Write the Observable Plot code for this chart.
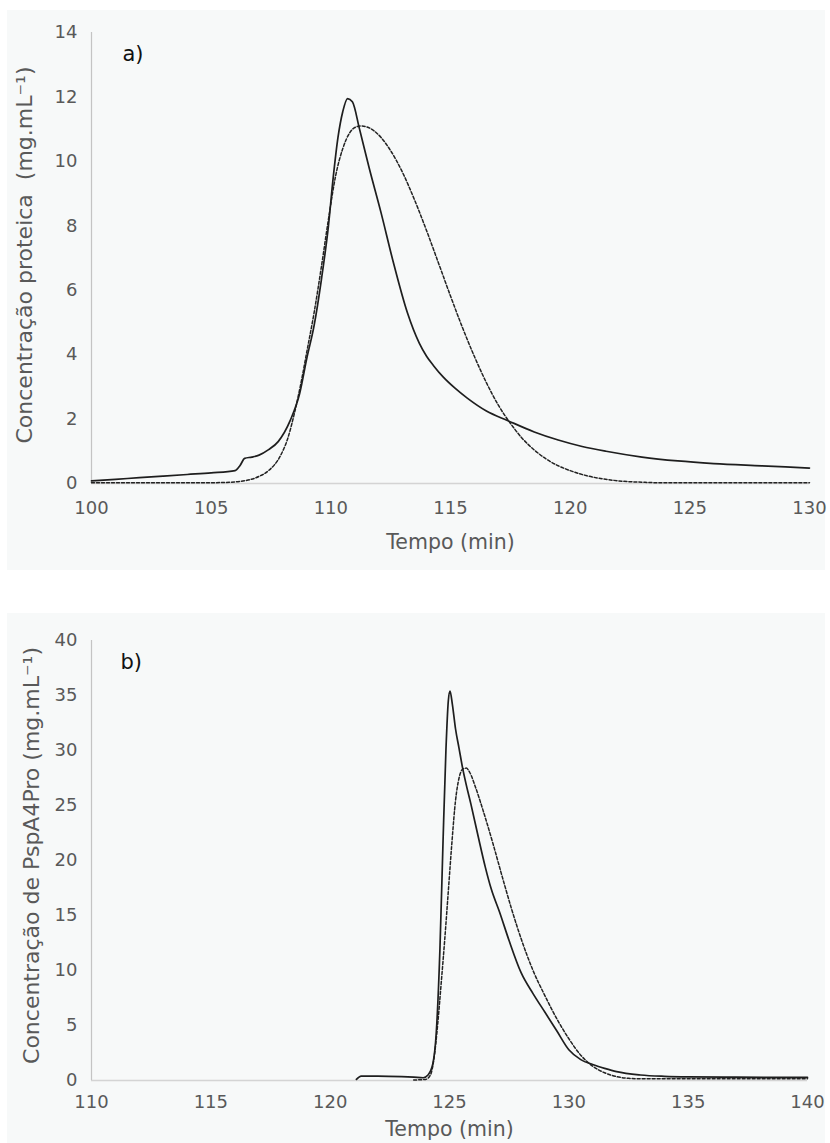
<!DOCTYPE html>
<html><head><meta charset="utf-8">
<script src="https://cdn.jsdelivr.net/npm/d3@7"></script>
<script src="https://cdn.jsdelivr.net/npm/@observablehq/plot@0.6"></script>
<style>
body{margin:0;background:#fff;width:830px;height:1143px;position:relative;overflow:hidden;font-family:"DejaVu Sans",sans-serif}
.panel{position:absolute;left:7px;width:818px;background:#f7f9f9}
#pa{top:10px;height:560px}
#pb{top:613px;height:530px}
</style></head><body>
<div id="pa" class="panel"></div><div id="pb" class="panel"></div>
<script>
// Panel a) — protein concentration
const aXTicks = [100, 105, 110, 115, 120, 125, 130];
const aYTicks = [0, 2, 4, 6, 8, 10, 12, 14];
const aSolidT = [100, 101, 102, 103, 104, 105, 106, 106.2, 106.4, 106.7, 107.0, 107.4, 107.8, 108.3, 108.7, 109.0, 109.3, 109.6, 109.9, 110.1, 110.3, 110.5, 110.7, 110.9, 111.2, 111.6, 112.1, 112.6, 113.2, 113.7, 114.0, 114.3, 114.7, 115.2, 115.7, 116.5, 117.4, 118.5, 119.5, 120.5, 121.5, 123.0, 124.5, 126.0, 128.0, 130.0];
const aSolidV = [0.08, 0.13, 0.18, 0.23, 0.28, 0.33, 0.40, 0.55, 0.78, 0.82, 0.88, 1.05, 1.3, 1.95, 2.8, 3.9, 4.9, 6.3, 8.0, 9.5, 10.75, 11.55, 11.95, 11.85, 11.0, 9.8, 8.4, 6.9, 5.3, 4.35, 3.95, 3.65, 3.3, 2.95, 2.65, 2.25, 1.95, 1.6, 1.35, 1.15, 1.0, 0.82, 0.7, 0.62, 0.55, 0.48];
const aDashT = [100, 102, 104, 105.5, 106.5, 107.0, 107.4, 107.9, 108.2, 108.5, 108.8, 109.0, 109.3, 109.6, 109.9, 110.2, 110.5, 110.8, 111.0, 111.25, 111.5, 111.8, 112.1, 112.5, 113.0, 113.5, 114.0, 114.5, 115.0, 115.5, 116.0, 116.5, 117.0, 117.5, 118.0, 118.5, 119.0, 119.5, 120.0, 120.7, 121.4, 122.2, 123.0, 124.0, 130.0];
const aDashV = [0.02, 0.02, 0.02, 0.03, 0.1, 0.22, 0.4, 0.87, 1.4, 2.25, 3.3, 4.1, 5.3, 6.7, 8.2, 9.55, 10.4, 10.9, 11.05, 11.1, 11.07, 10.95, 10.74, 10.33, 9.65, 8.8, 7.85, 6.84, 5.82, 4.84, 3.94, 3.13, 2.43, 1.87, 1.4, 1.04, 0.76, 0.55, 0.4, 0.24, 0.14, 0.07, 0.04, 0.02, 0.02];

// Panel b) — PspA4Pro concentration
const bXTicks = [110, 115, 120, 125, 130, 135, 140];
const bYTicks = [0, 5, 10, 15, 20, 25, 30, 35, 40];
const bSolidT = [121.1, 121.3, 122, 123, 123.5, 123.9, 124.1, 124.3, 124.45, 124.6, 124.73, 124.85, 124.95, 125.02, 125.12, 125.25, 125.4, 125.55, 125.7, 125.9, 126.2, 126.5, 126.75, 127.1, 127.5, 128.0, 128.5, 129.0, 129.5, 130.0, 130.5, 131.0, 131.5, 132.0, 133.0, 134.0, 135.0, 137.0, 140.0];
const bSolidV = [0.1, 0.4, 0.4, 0.35, 0.3, 0.25, 0.5, 1.5, 4.5, 12, 21.8, 30.0, 34.5, 35.4, 34.2, 32.0, 30.2, 28.4, 26.9, 25.1, 22.2, 19.4, 17.4, 15.3, 12.7, 9.8, 7.9, 6.2, 4.5, 2.8, 1.9, 1.45, 1.1, 0.8, 0.5, 0.38, 0.33, 0.3, 0.28];
const bDashT = [123.5, 124.0, 124.2, 124.35, 124.5, 124.65, 124.8, 124.95, 125.1, 125.25, 125.4, 125.55, 125.7, 125.85, 126.1, 126.4, 126.8, 127.2, 127.6, 128.0, 128.5, 129.0, 129.5, 130.0, 130.5, 131.0, 131.5, 132.0, 132.5, 133.0, 135.0, 140.0];
const bDashV = [0.05, 0.1, 0.5, 2.0, 5.0, 8.8, 12.8, 17.2, 21.6, 25.4, 27.5, 28.3, 28.4, 28.0, 26.6, 24.6, 21.7, 18.6, 15.6, 12.9, 10.0, 7.7, 5.6, 3.8, 2.3, 1.3, 0.7, 0.35, 0.2, 0.15, 0.15, 0.15];

const FONT = "DejaVu Sans";
const rows = (ts, vs) => ts.map((t, i) => ({t, v: vs[i]}));

function chart(o) {
  return Plot.plot({
    width: 818, height: o.height,
    marginLeft: 84, marginRight: o.mr, marginTop: o.mt, marginBottom: o.mb,
    style: {background: "transparent", fontFamily: FONT, color: "#595959", overflow: "visible"},
    x: {domain: o.xd, ticks: o.xt},
    y: {domain: o.yd, ticks: o.yt},
    marks: [
      Plot.ruleY([o.yd[0]], {stroke: "#d4d4d4", strokeWidth: 1.5}),
      Plot.ruleX([o.xd[0]], {stroke: "#c4c4c4", strokeWidth: 1.2}),
      Plot.axisX({ticks: o.xt, tickSize: 0, tickPadding: o.xpad, fontSize: 18, label: null}),
      Plot.axisY({ticks: o.yt, tickSize: 0, tickPadding: 14, fontSize: 18, label: null}),
      Plot.line(rows(o.dT, o.dV), {x: "t", y: "v", stroke: "#222", strokeWidth: 1.5, strokeDasharray: "3,2", curve: "monotone-x"}),
      Plot.line(rows(o.sT, o.sV), {x: "t", y: "v", stroke: "#1e1e1e", strokeWidth: 1.7, curve: "monotone-x"}),
      Plot.text(["Tempo (min)"], {frameAnchor: "bottom", dy: o.xlab, fontSize: 20.5, fill: "#595959"}),
      Plot.text([o.ylabel], {frameAnchor: "left", textAnchor: "middle", dx: o.ydx, dy: o.ydy, rotate: -90, fontSize: 22, fill: "#595959"}),
      Plot.text([o.tag], {frameAnchor: "top-left", dx: o.tagdx, dy: o.tagdy, textAnchor: "start", fontSize: 21, fill: "#111"})
    ]
  });
}

document.getElementById("pa").append(chart({
  height: 560, mt: 22, mb: 87, mr: 16,
  xd: [100, 130], yd: [0, 14], xt: aXTicks, yt: aYTicks,
  sT: aSolidT, sV: aSolidV, dT: aDashT, dV: aDashV,
  xpad: 18, xlab: 65, ylabel: "Concentração proteica\u00a0 (mg.mL\u207b\u00b9)", ydx: -67, ydy: -3,
  tag: "a)", tagdx: 31, tagdy: 14
}));
document.getElementById("pb").append(chart({
  height: 530, mt: 27, mb: 63, mr: 18,
  xd: [110, 140], yd: [0, 40], xt: bXTicks, yt: bYTicks,
  sT: bSolidT, sV: bSolidV, dT: bDashT, dV: bDashV,
  xpad: 15, xlab: 55, ylabel: "Concentração de PspA4Pro (mg.mL\u207b\u00b9)", ydx: -60, ydy: -5,
  tag: "b)", tagdx: 29, tagdy: 14
}));
</script>
</body></html>
